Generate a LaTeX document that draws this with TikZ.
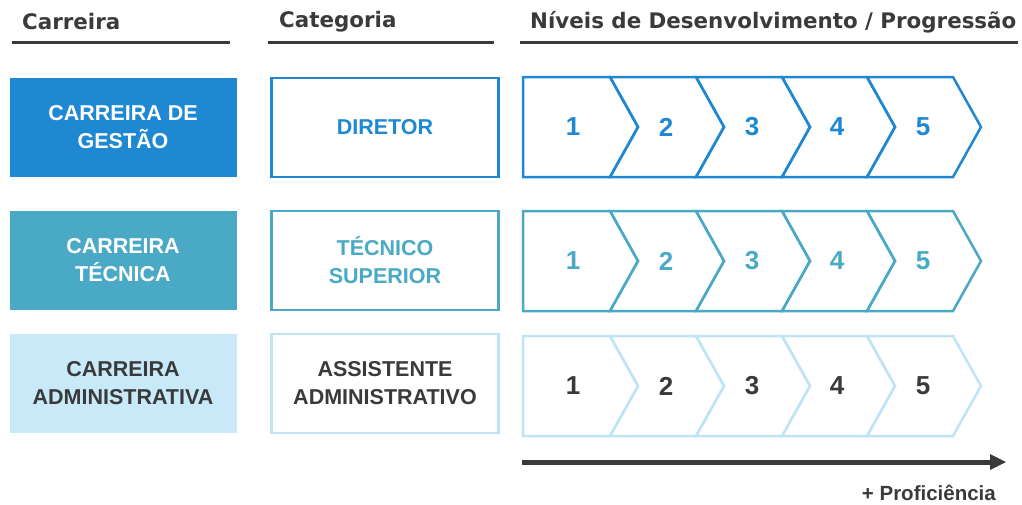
\documentclass[tikz,border=0pt]{standalone}
\usepackage{fontspec}
\setmainfont{Liberation Sans}
\newfontfamily\headfont{DejaVu Sans}
\definecolor{cblue}{HTML}{1E88D2}
\definecolor{cteal}{HTML}{4AAAC6}
\definecolor{clight}{HTML}{C8EAF8}
\definecolor{clightline}{HTML}{BFE4F5}
\definecolor{cdark}{HTML}{3A3A3A}
\tikzset{
  head/.style={font=\headfont\bfseries\fontsize{21.4}{25}\selectfont, text=cdark, anchor=west, inner sep=0},
  headline/.style={cdark, line width=3pt},
  careerbox/.style={minimum width=227pt, minimum height=99pt, inner sep=0, align=center, font=\bfseries\fontsize{21.5}{28}\selectfont},
  catbox/.style={minimum width=227pt, minimum height=99pt, inner sep=0, align=center, line width=2.5pt, fill=white, font=\bfseries\fontsize{21.5}{28}\selectfont},
  num/.style={font=\bfseries\fontsize{26}{26}\selectfont, inner sep=0},
  chev/.style={line width=2.5pt, line join=miter}
}
\begin{document}
\begin{tikzpicture}[x=1pt,y=-1pt]
\useasboundingbox (0,0) rectangle (1022,504);
% headers
\node[head] (h1) at (22,22) {Carreira};
\node[head] (h2) at (279,22) {Categoria};
\node[head] (h3) at (530,22) {Níveis de Desenvolvimento / Progressão};
\draw[headline] (12,42) -- (230,42);
\draw[headline] (268,42) -- (494,42);
\draw[headline] (520,42) -- (1018,42);
% career boxes
\node[careerbox, fill=cblue, text=white] (c1) at (123,127) {CARREIRA DE\\GESTÃO};
\node[careerbox, fill=cteal, text=white] (c2) at (123,260) {CARREIRA\\TÉCNICA};
\node[careerbox, fill=clight, text=cdark] (c3) at (123,383) {CARREIRA\\ADMINISTRATIVA};
% category boxes
\node[catbox, draw=cblue, text=cblue] (k1) at (385,127.5) {DIRETOR};
\node[catbox, draw=cteal, text=cteal] (k2) at (385,260.5) {TÉCNICO\\SUPERIOR};
\node[catbox, draw=clightline, text=cdark] (k3) at (385,383.5) {ASSISTENTE\\ADMINISTRATIVO};
% chevrons
\foreach \t/\b/\col/\tcol/\r in {77/177/cblue/cblue/1, 211/311/cteal/cteal/2, 336/436/clightline/cdark/3}{
  \pgfmathsetmacro{\m}{(\t+\b)/2}
  \draw[chev, draw=\col] (523,\t) -- (610,\t) -- (638,\m) -- (610,\b) -- (523,\b) -- cycle;
  \foreach \L/\R in {610/696, 696/782, 782/867, 867/953}{
    \draw[chev, draw=\col] (\L,\t) -- (\R,\t) -- (\R+28,\m) -- (\R,\b) -- (\L,\b) -- (\L+28,\m) -- cycle;
  }
  \foreach \x/\n in {573/1, 666/2, 752/3, 837/4, 923/5}{
    \node[num, text=\tcol] (n\r\n) at (\x,\m) {\n};
  }
}
% arrow
\coordinate (a0) at (522,462);
\coordinate (a1) at (990,462);
\coordinate (a2) at (1006,462);
\draw[cdark, line width=5pt] (a0) -- (a1);
\fill[cdark] (990,454) -- (a2) -- (990,470) -- cycle;
\node[font=\bfseries\fontsize{20.5}{20.5}\selectfont, text=cdark, anchor=east, inner sep=0] (prof) at (996,493) {+ Proficiência};
\end{tikzpicture}
\end{document}
